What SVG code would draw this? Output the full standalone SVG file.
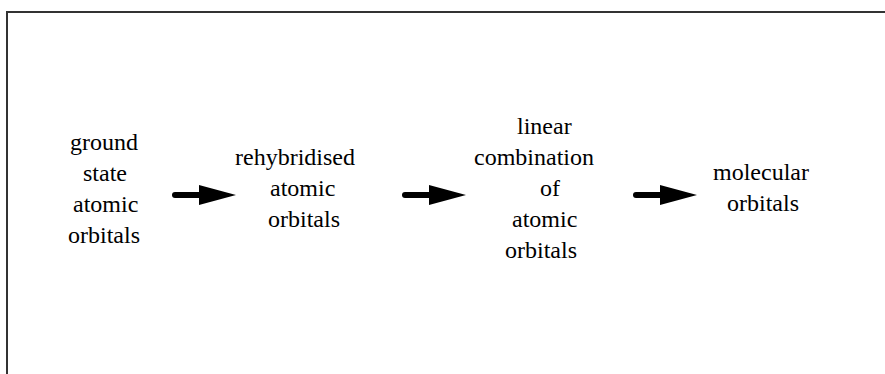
<svg xmlns="http://www.w3.org/2000/svg" width="885" height="374" viewBox="0 0 885 374">
  <rect width="885" height="374" fill="#ffffff"/>
  <!-- outer frame, open on the right and bottom -->
  <path d="M7,380 V12 H890" fill="none" stroke="#333333" stroke-width="2"/>

  <g id="ground-state">
    <text x="70" y="150" font-family="Liberation Serif" font-size="24">ground</text>
    <text x="83" y="181" font-family="Liberation Serif" font-size="24">state</text>
    <text x="73" y="212" font-family="Liberation Serif" font-size="24">atomic</text>
    <text x="68" y="243" font-family="Liberation Serif" font-size="24">orbitals</text>
  </g>

  <g id="rehybridised">
    <text x="235" y="165" font-family="Liberation Serif" font-size="24">rehybridised</text>
    <text x="270" y="196" font-family="Liberation Serif" font-size="24">atomic</text>
    <text x="268" y="227" font-family="Liberation Serif" font-size="24">orbitals</text>
  </g>

  <g id="lcao">
    <text x="517" y="134" font-family="Liberation Serif" font-size="24">linear</text>
    <text x="474" y="165" font-family="Liberation Serif" font-size="24">combination</text>
    <text x="540" y="196" font-family="Liberation Serif" font-size="24">of</text>
    <text x="512" y="227" font-family="Liberation Serif" font-size="24">atomic</text>
    <text x="505" y="258" font-family="Liberation Serif" font-size="24">orbitals</text>
  </g>

  <g id="molecular">
    <text x="713" y="180" font-family="Liberation Serif" font-size="24">molecular</text>
    <text x="727" y="211" font-family="Liberation Serif" font-size="24">orbitals</text>
  </g>

  <g id="connectors">
    <!-- arrow shafts -->
    <g stroke="#000000" stroke-width="6" stroke-linecap="round">
      <line x1="175" y1="195" x2="202" y2="195"/>
      <line x1="405" y1="195" x2="432" y2="195"/>
      <line x1="636" y1="195" x2="663" y2="195"/>
    </g>
    <!-- arrow heads -->
    <g fill="#000000">
      <polygon points="199,185 236,195 199,205"/>
      <polygon points="429,185 466,195 429,205"/>
      <polygon points="660,185 697,195 660,205"/>
    </g>
  </g>
</svg>
